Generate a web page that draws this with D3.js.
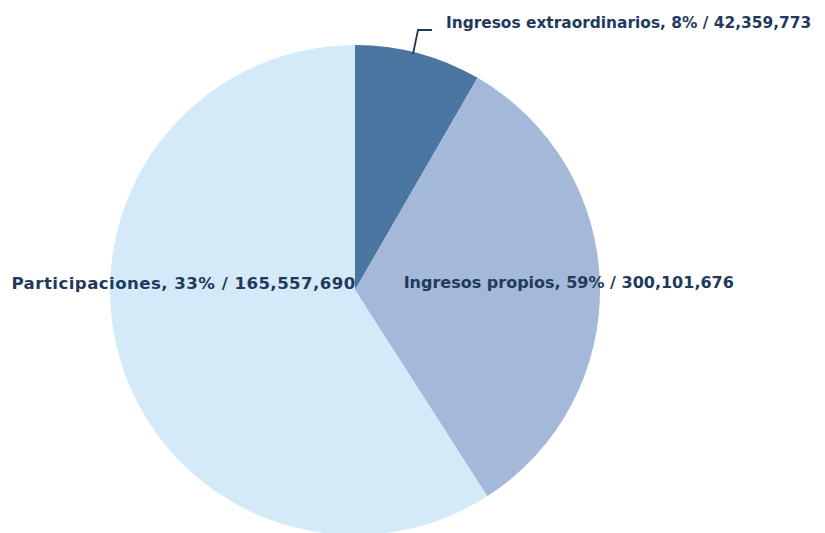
<!DOCTYPE html>
<html>
<head>
<meta charset="utf-8">
<script src="https://cdn.jsdelivr.net/npm/d3@7"></script>
<style>
  body { margin: 0; background: #fff; }
  text { font-family: "DejaVu Sans", sans-serif; font-weight: bold; fill: #1f3a5c; }
</style>
</head>
<body>
<svg id="chart" width="825" height="533"></svg>
<script>
// label order as printed in the source chart
const categories = ['Ingresos extraordinarios', 'Ingresos propios', 'Participaciones'];
const percents = [8, 59, 33];
const amounts = [42359773, 300101676, 165557690];
// slice values in the order the wedges are drawn (clockwise from 12 o'clock)
const sliceValues = [42359773, 165557690, 300101676];
const colors = ['#4a76a1', '#a4b8da', '#d5eaf9'];

const width = 825, height = 533;
const cx = 355, cy = 290, radius = 245;

const svg = d3.select('#chart');
const g = svg.append('g').attr('transform', `translate(${cx},${cy})`);

const pie = d3.pie().sort(null).value(d => d);
const arcs = pie(sliceValues);
const arc = d3.arc().innerRadius(0).outerRadius(radius);

g.selectAll('path')
  .data(arcs)
  .join('path')
  .attr('d', arc)
  .attr('fill', (d, i) => colors[i]);

const fmt = d3.format(',');
const labelText = i => `${categories[i]}, ${percents[i]}% / ${fmt(amounts[i])}`;

// inside labels: polar position (fraction of radius, angle in degrees) picked to match the original
const inside = [
  { i: 1, r: 0.873, a: 88, size: 16, ls: 0 },
  { i: 2, r: 0.70, a: 272.3, size: 16.6, ls: 0.45 }
];
inside.forEach(p => {
  const rad = p.a * Math.PI / 180;
  g.append('text')
    .attr('x', Math.sin(rad) * radius * p.r)
    .attr('y', -Math.cos(rad) * radius * p.r)
    .attr('text-anchor', 'middle')
    .attr('dy', '0.35em')
    .attr('font-size', p.size)
    .attr('letter-spacing', p.ls)
    .text(labelText(p.i));
});

// outside label with leader for the small slice
const lead = (arcs[0].startAngle + arcs[0].endAngle) / 2 * 0.92;
const p0 = [Math.sin(lead) * (radius - 2), -Math.cos(lead) * (radius - 2)];
const p1 = [p0[0] + 5, p0[1] - 24];
const p2 = [p1[0] + 14, p1[1]];
g.append('polyline')
  .attr('points', [p0, p1, p2].map(p => p.join(',')).join(' '))
  .attr('fill', 'none')
  .attr('stroke', '#1f3a5c')
  .attr('stroke-width', 1.8);
g.append('text')
  .attr('x', p2[0] + 14)
  .attr('y', p2[1] - 7)
  .attr('dy', '0.35em')
  .attr('font-size', 15.4)
  .text(labelText(0));
</script>
</body>
</html>
